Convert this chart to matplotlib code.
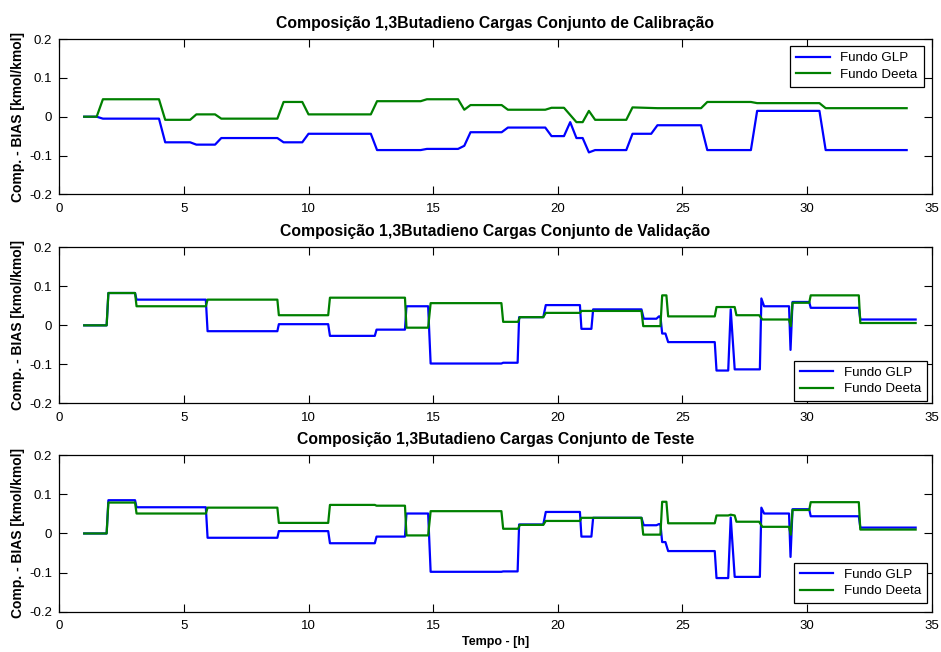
import matplotlib
matplotlib.use("Agg")
import matplotlib.pyplot as plt

plt.rcParams['font.family'] = ['Liberation Sans', 'DejaVu Sans']

# --- Conjunto de Calibracao ---
cal_t_glp = [1.0, 1.5, 1.75, 4.0, 4.25, 5.25, 5.5, 6.25, 6.5, 8.75, 9.0, 9.75, 10.0,
             12.5, 12.75, 14.5, 14.75, 16.0, 16.25, 16.5, 17.75, 18.0, 19.5, 19.75,
             20.25, 20.5, 20.75, 21.0, 21.25, 21.5, 22.75, 23.0, 23.75, 24.0, 25.75,
             26.0, 27.75, 28.0, 30.5, 30.75, 34.0]
cal_glp = [0, 0, -0.005, -0.005, -0.066, -0.066, -0.072, -0.072, -0.055, -0.055,
           -0.066, -0.066, -0.044, -0.044, -0.086, -0.086, -0.083, -0.083, -0.075,
           -0.040, -0.040, -0.028, -0.028, -0.050, -0.050, -0.014, -0.055, -0.055,
           -0.092, -0.086, -0.086, -0.044, -0.044, -0.022, -0.022, -0.086, -0.086,
           0.015, 0.015, -0.086, -0.086]
cal_t_deeta = [1.0, 1.5, 1.75, 4.0, 4.25, 5.25, 5.5, 6.25, 6.5, 8.75, 9.0, 9.75, 10.0,
               12.5, 12.75, 14.5, 14.75, 16.0, 16.25, 16.5, 17.75, 18.0, 19.5, 19.75,
               20.25, 20.75, 21.0, 21.25, 21.5, 22.75, 23.0, 24.0, 25.75, 26.0, 27.75,
               28.0, 30.5, 30.75, 34.0]
cal_deeta = [0, 0, 0.045, 0.045, -0.008, -0.008, 0.006, 0.006, -0.005, -0.005, 0.038,
             0.038, 0.006, 0.006, 0.040, 0.040, 0.045, 0.045, 0.018, 0.030, 0.030,
             0.018, 0.018, 0.023, 0.023, -0.014, -0.014, 0.015, -0.008, -0.008, 0.024,
             0.022, 0.022, 0.038, 0.038, 0.035, 0.035, 0.022, 0.022]

# --- Conjunto de Validacao ---
val_t_glp = [1.0, 1.9, 1.97, 3.04, 3.1, 5.88, 5.95, 8.75, 8.81, 10.79, 10.86, 12.66,
             12.73, 13.87, 13.93, 14.8, 14.9, 17.74, 17.81, 18.39, 18.45, 19.42, 19.52,
             20.89, 20.95, 21.35, 21.42, 23.36, 23.45, 23.96, 24.06, 24.12, 24.19, 24.32,
             24.43, 26.3, 26.37, 26.84, 26.94, 27.1, 28.11, 28.17, 28.28, 29.28, 29.34,
             29.42, 30.09, 30.15, 32.08, 32.14, 34.36]
val_glp = [0, 0, 0.083, 0.083, 0.066, 0.066, -0.015, -0.015, 0.003, 0.003, -0.027,
           -0.027, -0.011, -0.011, 0.049, 0.049, -0.098, -0.098, -0.096, -0.096, 0.021,
           0.021, 0.052, 0.052, -0.009, -0.009, 0.041, 0.041, 0.017, 0.017, 0.023,
           0.023, -0.021, -0.021, -0.043, -0.043, -0.116, -0.116, 0.041, -0.113,
           -0.113, 0.069, 0.049, 0.049, -0.063, 0.060, 0.060, 0.045, 0.045, 0.015,
           0.015]
val_t_deeta = [1.0, 1.9, 1.97, 3.04, 3.1, 5.88, 5.95, 8.75, 8.81, 10.79, 10.86, 13.87,
               13.93, 14.8, 14.9, 17.74, 17.81, 18.41, 18.48, 19.42, 19.52, 20.89, 20.95,
               23.36, 23.43, 24.12, 24.19, 24.36, 24.43, 26.3, 26.37, 27.1, 27.17, 28.08,
               28.21, 29.28, 29.35, 29.42, 30.09, 30.15, 32.08, 32.14, 34.36]
val_deeta = [0, 0, 0.083, 0.083, 0.049, 0.049, 0.066, 0.066, 0.026, 0.026, 0.071,
             0.071, -0.006, -0.006, 0.057, 0.057, 0.009, 0.009, 0.021, 0.021, 0.032,
             0.032, 0.037, 0.037, -0.002, -0.002, 0.077, 0.077, 0.023, 0.023, 0.047,
             0.047, 0.026, 0.026, 0.015, 0.015, -0.002, 0.058, 0.058, 0.077, 0.077,
             0.006, 0.006]

# --- Conjunto de Teste ---
tes_t_glp = val_t_glp
tes_glp = [0, 0, 0.085, 0.085, 0.067, 0.067, -0.011, -0.011, 0.006, 0.006, -0.025,
           -0.025, -0.008, -0.008, 0.051, 0.051, -0.098, -0.098, -0.097, -0.097, 0.023,
           0.023, 0.055, 0.055, -0.008, -0.008, 0.040, 0.040, 0.021, 0.021, 0.024,
           0.024, -0.022, -0.022, -0.045, -0.045, -0.114, -0.114, 0.041, -0.111,
           -0.111, 0.066, 0.051, 0.051, -0.060, 0.062, 0.062, 0.044, 0.044, 0.015,
           0.015]
tes_t_deeta = [1.0, 1.9, 1.97, 3.04, 3.1, 5.88, 5.95, 8.75, 8.81, 10.79, 10.86, 12.66,
               12.73, 13.87, 13.93, 14.8, 14.9, 17.74, 17.81, 18.41, 18.48, 19.42, 19.52,
               20.89, 20.95, 23.36, 23.43, 24.12, 24.19, 24.36, 24.43, 26.3, 26.37, 26.84,
               26.94, 27.1, 27.17, 28.08, 28.21, 29.28, 29.35, 29.42, 30.09, 30.15, 32.08,
               32.14, 34.36]
tes_deeta = [0, 0, 0.079, 0.079, 0.051, 0.051, 0.066, 0.066, 0.027, 0.027, 0.073,
             0.073, 0.071, 0.071, -0.005, -0.005, 0.057, 0.057, 0.012, 0.012, 0.022,
             0.022, 0.032, 0.032, 0.040, 0.040, -0.003, -0.003, 0.081, 0.081, 0.026,
             0.026, 0.046, 0.046, 0.048, 0.046, 0.030, 0.030, 0.017, 0.017, -0.003,
             0.060, 0.060, 0.080, 0.080, 0.010, 0.010]

titles = ['Composição 1,3Butadieno Cargas Conjunto de Calibração',
          'Composição 1,3Butadieno Cargas Conjunto de Validação',
          'Composição 1,3Butadieno Cargas Conjunto de Teste']
series = [(cal_t_glp, cal_glp, cal_t_deeta, cal_deeta),
          (val_t_glp, val_glp, val_t_deeta, val_deeta),
          (tes_t_glp, tes_glp, tes_t_deeta, tes_deeta)]
xticks = [0, 5, 10, 15, 20, 25, 30, 35]
yticks = [-0.2, -0.1, 0, 0.1, 0.2]
ytick_labels = ['-0.2', '-0.1', '0', '0.1', '0.2']

fig = plt.figure(figsize=(9.41, 6.52), dpi=100)
# axes boxes in figure fractions (left, bottom, width, height)
boxes = [(0.063, 0.702, 0.927, 0.238),
         (0.063, 0.3815, 0.927, 0.239),
         (0.063, 0.0618, 0.927, 0.240)]
legend_anchor = [('upper right', (0.991, 0.955)),
                 ('lower right', (0.9945, 0.012)),
                 ('lower right', (0.995, 0.054))]

for i in range(3):
    ax = fig.add_axes(boxes[i])
    tg, g, td, d = series[i]
    ax.plot(tg, g, color=(0, 0, 1), lw=1.6, label='Fundo GLP')
    ax.plot(td, d, color=(0, 0.5, 0), lw=1.6, label='Fundo Deeta')
    ax.set_xlim(0, 35)
    ax.set_ylim(-0.2, 0.2)
    ax.set_xticks(xticks)
    ax.set_yticks(yticks)
    ax.set_yticklabels(ytick_labels)
    ax.tick_params(direction='in', top=True, right=True, length=6, width=0.8,
                   labelsize=9.5)
    ax.tick_params(axis='x', pad=6)
    ax.tick_params(axis='y', pad=5)
    for s in ax.spines.values():
        s.set_linewidth(0.9)
    ax.set_title(titles[i], fontsize=11.3, fontweight='bold', pad=8)
    ax.set_ylabel('Comp. - BIAS [kmol/kmol]', fontsize=10, fontweight='bold', labelpad=3)
    loc, anchor = legend_anchor[i]
    leg = ax.legend(loc=loc, bbox_to_anchor=anchor, borderaxespad=0, fontsize=9.6,
                    fancybox=False, framealpha=1, edgecolor='black',
                    handlelength=2.5, handletextpad=0.8, borderpad=0.45,
                    labelspacing=0.3)
    leg.get_frame().set_linewidth(0.9)
    if i == 2:
        ax.set_xlabel('Tempo - [h]', fontsize=9, fontweight='bold', labelpad=3)

fig.savefig('out.png', dpi=100)
